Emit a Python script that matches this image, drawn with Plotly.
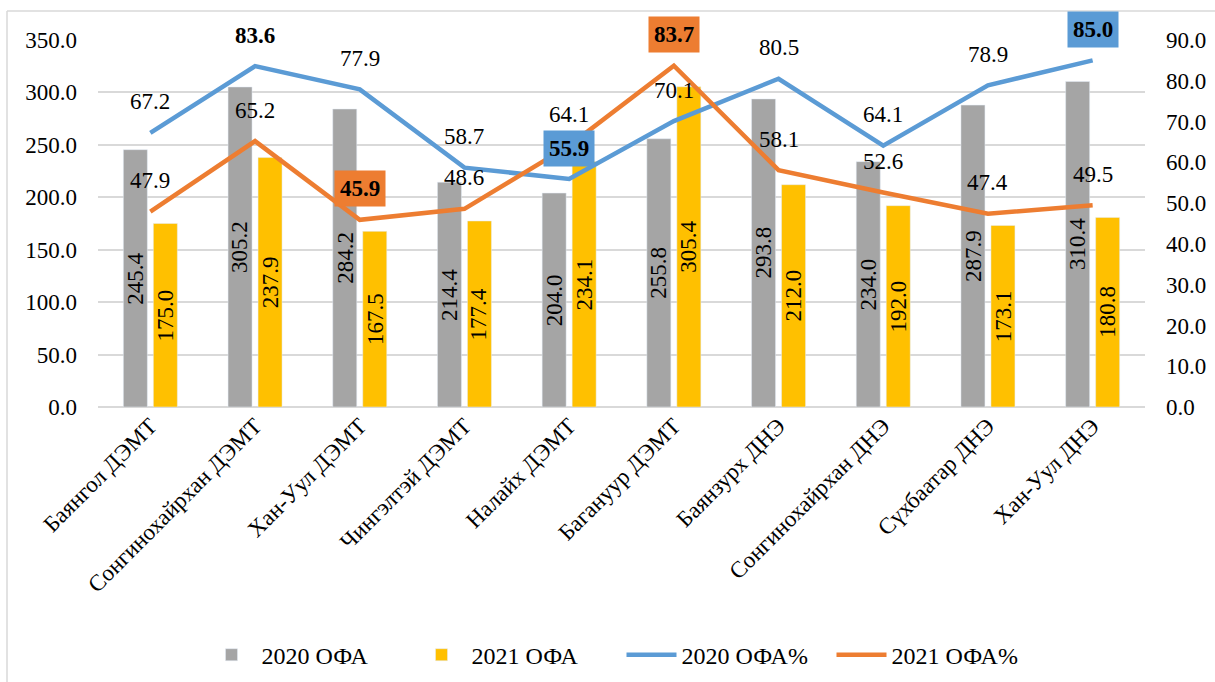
import plotly.graph_objects as go

# data
categories = ["Баянгол ДЭМТ", "Сонгинохайрхан ДЭМТ", "Хан-Уул ДЭМТ", "Чингэлтэй ДЭМТ",
              "Налайх ДЭМТ", "Багануур ДЭМТ", "Баянзурх ДНЭ", "Сонгинохайрхан ДНЭ",
              "Сүхбаатар ДНЭ", "Хан-Уул ДНЭ"]
ofa_2020 = [245.4, 305.2, 284.2, 214.4, 204.0, 255.8, 293.8, 234.0, 287.9, 310.4]
ofa_2021 = [175.0, 237.9, 167.5, 177.4, 234.1, 305.4, 212.0, 192.0, 173.1, 180.8]
pct_2020 = [67.2, 83.6, 77.9, 58.7, 55.9, 70.1, 80.5, 64.1, 78.9, 85.0]
pct_2021 = [47.9, 65.2, 45.9, 48.6, 64.1, 83.7, 58.1, 52.6, 47.4, 49.5]

FONT = "Liberation Serif"
GREY = "#A5A5A5"
GOLD = "#FFC000"
BLUE = "#5B9BD5"
ORANGE = "#ED7D31"

fig = go.Figure()
fig.add_trace(go.Bar(x=categories, y=ofa_2020, name="2020 ОФА", marker_color=GREY))
fig.add_trace(go.Bar(x=categories, y=ofa_2021, name="2021 ОФА", marker_color=GOLD))
fig.add_trace(go.Scatter(x=categories, y=pct_2020, name="2020 ОФА%", mode="lines",
                         line=dict(color=BLUE, width=4.5), yaxis="y2"))
fig.add_trace(go.Scatter(x=categories, y=pct_2021, name="2021 ОФА%", mode="lines",
                         line=dict(color=ORANGE, width=4.5), yaxis="y2"))

# bar labels, rotated, in the middle of each bar
for vals, shift in ((ofa_2020, -15), (ofa_2021, 15)):
    for c, v in zip(categories, vals):
        fig.add_annotation(x=c, y=v / 2, text=f"{v:.1f}", showarrow=False, textangle=-90,
                           xshift=shift, font=dict(family=FONT, size=23, color="black"))

# line labels: max/min get a coloured box, 83.6 is just bold
def add_labels(values, color, bold_extra=()):
    hi = values.index(max(values))
    lo = values.index(min(values))
    for i, v in enumerate(values):
        boxed = i in (hi, lo)
        bold = boxed or i in bold_extra
        txt = f"<b>{v:.1f}</b>" if bold else f"{v:.1f}"
        fig.add_annotation(x=categories[i], y=v, yref="y2", text=txt, showarrow=False,
                           yshift=31, font=dict(family=FONT, size=23, color="black"),
                           bgcolor=color if boxed else "rgba(0,0,0,0)", borderpad=5)

add_labels(pct_2020, BLUE, bold_extra=(1,))
add_labels(pct_2021, ORANGE)

# chart frame (only left and top edges are visible in the crop)
px = lambda p: (p - 98) / 1047
py = lambda p: (407 - p) / 367
fig.add_shape(type="line", xref="paper", yref="paper", x0=px(7), x1=px(7), y0=py(685), y1=py(11),
              line=dict(color="#D9D9D9", width=1.5), layer="below")
fig.add_shape(type="line", xref="paper", yref="paper", x0=px(7), x1=px(1218), y0=py(11), y1=py(11),
              line=dict(color="#D9D9D9", width=1.5), layer="below")

fig.update_layout(
    width=1215, height=682,
    margin=dict(l=98, r=70, t=40, b=275, autoexpand=False),
    paper_bgcolor="white", plot_bgcolor="white",
    font=dict(family=FONT, size=22, color="black"),
    barmode="group", bargap=0.427, bargroupgap=0.2,
    showlegend=True,
    legend=dict(orientation="h", x=0.5, xanchor="center", y=-0.676, yanchor="middle",
                font=dict(family=FONT, size=24), itemwidth=50, traceorder="normal",
                entrywidth=145),
    xaxis=dict(tickangle=-45, tickfont=dict(family=FONT, size=23), showgrid=False,
               showline=False, ticks="", automargin=False),
    yaxis=dict(range=[0, 350], dtick=50, tickformat=".1f", showgrid=True,
               gridcolor="#D9D9D9", gridwidth=1.5, zeroline=True, zerolinecolor="#D9D9D9",
               zerolinewidth=1.5, showline=False, ticklabelstandoff=20, automargin=False,
               tickfont=dict(family=FONT, size=23)),
    yaxis2=dict(range=[0, 90], dtick=10, tickformat=".1f", overlaying="y", side="right",
                showgrid=False, zeroline=False, showline=False, ticklabelstandoff=20,
                automargin=False, tickfont=dict(family=FONT, size=23)),
)

fig.write_html("out.html", config={"displayModeBar": False},
               post_script="document.body.style.margin='0';")
